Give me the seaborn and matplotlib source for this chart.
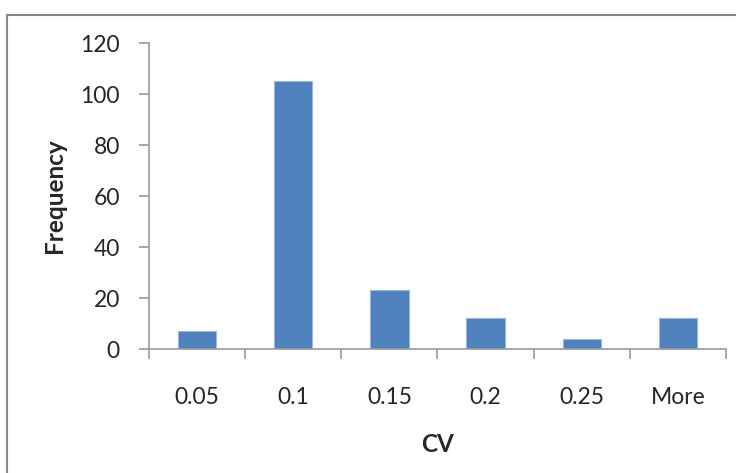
import matplotlib
matplotlib.use("Agg")
import matplotlib.pyplot as plt
import seaborn as sns
import pandas as pd
from matplotlib.patches import Rectangle

# histogram bins and counts
bins = ["0.05", "0.1", "0.15", "0.2", "0.25", "More"]
counts = [7, 105, 23, 12, 4, 12]

df = pd.DataFrame({"CV": bins, "Frequency": counts})

sns.set_style("white")
plt.rcParams["font.family"] = ["Lato", "DejaVu Sans"]

fig = plt.figure(figsize=(7.36, 4.73), dpi=100)
ax = fig.add_axes([149 / 736, 1 - 349 / 473, (726 - 149) / 736, (349 - 43) / 473])

sns.barplot(data=df, x="CV", y="Frequency", color="#4F81BD", width=0.4,
            edgecolor="#9BB7DA", linewidth=0.8, saturation=1, ax=ax)

ax.set_xlim(-0.5, 5.5)
ax.set_ylim(0, 120)
ax.set_yticks(range(0, 121, 20))

for s in ["top", "right"]:
    ax.spines[s].set_visible(False)
for s in ["left", "bottom"]:
    ax.spines[s].set_color("#9a9a9a")
    ax.spines[s].set_linewidth(1.2)

ax.tick_params(axis="y", which="major", direction="out", length=7, width=1.2,
               color="#9a9a9a", labelsize=16.5, pad=14, left=True)
ax.tick_params(axis="x", which="major", length=0, labelsize=16.5, pad=27)
ax.set_xticks([i - 0.5 for i in range(7)], minor=True)
ax.tick_params(axis="x", which="minor", direction="out", length=7, width=1.2,
               color="#9a9a9a", bottom=True)

ax.set_xlabel("CV", fontsize=17.5, fontweight="bold", labelpad=18)
ax.set_ylabel("Frequency", fontsize=17.5, fontweight="bold", labelpad=10)

# chart border like the spreadsheet frame
fig.patches.append(Rectangle((7 / 736, -0.1), 1.2, 1 - 15 / 473 + 0.1,
                             transform=fig.transFigure, fill=False,
                             edgecolor="#878787", linewidth=1.5))

fig.savefig("out.png", dpi=100)
